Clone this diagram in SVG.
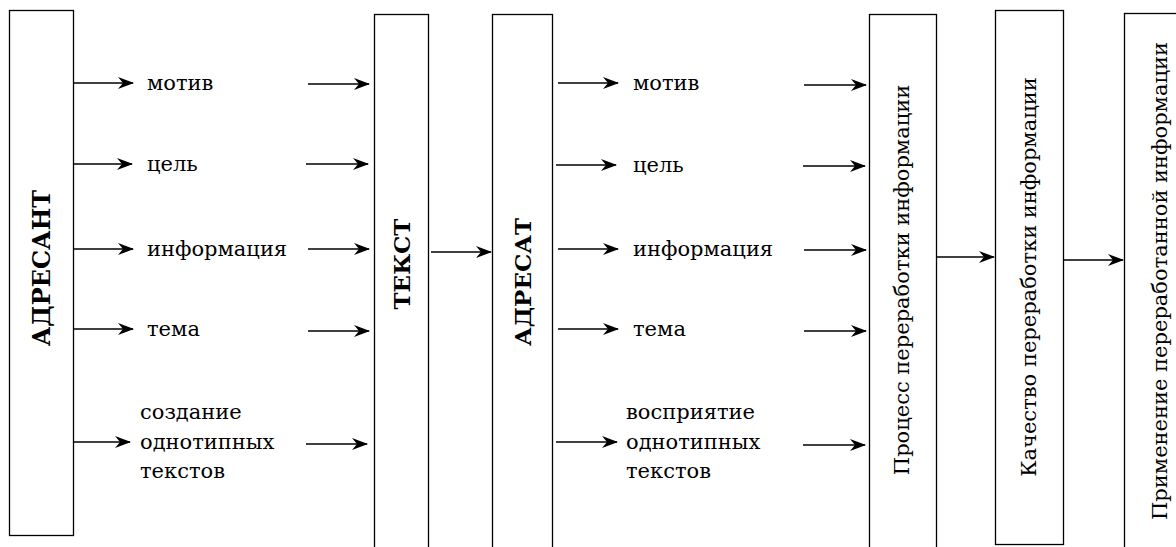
<svg xmlns="http://www.w3.org/2000/svg" width="1176" height="547" viewBox="0 0 1176 547">
  <defs>
    <marker id="arrow" viewBox="0 0 16 12" refX="15" refY="6" markerWidth="16" markerHeight="12" markerUnits="userSpaceOnUse" orient="auto">
      <path d="M0,0 L16,6 L0,12 L5,6 Z" fill="#000"/>
    </marker>
    <style>
      .box { fill: #fff; stroke: #000; stroke-width: 1.3; }
      .link { stroke: #000; stroke-width: 1.4; fill: none; marker-end: url(#arrow); }
      text { fill: #000; font-family: "DejaVu Serif", "Liberation Serif", serif; }
      .lbl { font-size: 21px; }
      .title { font-size: 23px; font-weight: bold; }
      .title-lg { font-size: 24px; font-weight: bold; }
      .vlbl { font-size: 21px; }
    </style>
  </defs>
  <rect width="1176" height="547" fill="#fff"/>

  <!-- sender -->
  <g id="adresant">
    <rect class="box" x="9.5" y="10.5" width="64" height="525"/>
    <text class="title-lg" transform="translate(41,268) rotate(-90)" text-anchor="middle" dominant-baseline="central">АДРЕСАНТ</text>
  </g>

  <!-- sender attributes -->
  <g id="sender-labels">
    <text class="lbl" x="147" y="83" dominant-baseline="central">мотив</text>
    <text class="lbl" x="147" y="164" dominant-baseline="central">цель</text>
    <text class="lbl" x="147" y="249" dominant-baseline="central">информация</text>
    <text class="lbl" x="147" y="329" dominant-baseline="central">тема</text>
    <text class="lbl" x="140" y="412" dominant-baseline="central">создание</text>
    <text class="lbl" x="140" y="442" dominant-baseline="central">однотипных</text>
    <text class="lbl" x="140" y="471" dominant-baseline="central">текстов</text>
  </g>

  <!-- text -->
  <g id="tekst">
    <rect class="box" x="374.5" y="14.5" width="54" height="560"/>
    <text class="title" transform="translate(401,264) rotate(-90)" text-anchor="middle" dominant-baseline="central">ТЕКСТ</text>
  </g>

  <!-- recipient -->
  <g id="adresat">
    <rect class="box" x="492.5" y="14.5" width="60" height="560"/>
    <text class="title" transform="translate(522,282) rotate(-90)" text-anchor="middle" dominant-baseline="central">АДРЕСАТ</text>
  </g>

  <!-- recipient attributes -->
  <g id="recipient-labels">
    <text class="lbl" x="633" y="83" dominant-baseline="central">мотив</text>
    <text class="lbl" x="633" y="165" dominant-baseline="central">цель</text>
    <text class="lbl" x="633" y="249" dominant-baseline="central">информация</text>
    <text class="lbl" x="633" y="329" dominant-baseline="central">тема</text>
    <text class="lbl" x="626" y="412" dominant-baseline="central">восприятие</text>
    <text class="lbl" x="626" y="442" dominant-baseline="central">однотипных</text>
    <text class="lbl" x="626" y="471" dominant-baseline="central">текстов</text>
  </g>

  <!-- processing -->
  <g id="process">
    <rect class="box" x="869.5" y="14.5" width="67" height="560"/>
    <text class="vlbl" transform="translate(902,280) rotate(-90)" text-anchor="middle" dominant-baseline="central">Процесс переработки информации</text>
  </g>

  <g id="quality">
    <rect class="box" x="995.5" y="10.5" width="68" height="534"/>
    <text class="vlbl" transform="translate(1029,277) rotate(-90)" text-anchor="middle" dominant-baseline="central">Качество переработки информации</text>
  </g>

  <g id="application">
    <rect class="box" x="1124.5" y="13.5" width="80" height="560"/>
    <text class="vlbl" transform="translate(1160,281) rotate(-90)" text-anchor="middle" dominant-baseline="central">Применение переработанной информации</text>
  </g>

  <!-- connectors -->
  <g id="connectors">
    <line class="link" x1="73.5" y1="83" x2="133" y2="83"/>
    <line class="link" x1="73.5" y1="164" x2="132" y2="164"/>
    <line class="link" x1="73.5" y1="249" x2="133" y2="249"/>
    <line class="link" x1="73.5" y1="329" x2="133" y2="329"/>
    <line class="link" x1="73.5" y1="442" x2="130" y2="442"/>

    <line class="link" x1="308" y1="84" x2="369" y2="84"/>
    <line class="link" x1="306" y1="164" x2="368" y2="164"/>
    <line class="link" x1="308" y1="249" x2="369" y2="249"/>
    <line class="link" x1="308" y1="331" x2="369" y2="331"/>
    <line class="link" x1="306" y1="444" x2="367" y2="444"/>

    <line class="link" x1="431" y1="252" x2="491" y2="252"/>

    <line class="link" x1="558" y1="83" x2="618" y2="83"/>
    <line class="link" x1="556" y1="165" x2="616" y2="165"/>
    <line class="link" x1="558" y1="249" x2="618" y2="249"/>
    <line class="link" x1="558" y1="329" x2="618" y2="329"/>
    <line class="link" x1="556" y1="442" x2="617" y2="442"/>

    <line class="link" x1="804" y1="85" x2="866" y2="85"/>
    <line class="link" x1="803" y1="166" x2="865" y2="166"/>
    <line class="link" x1="804" y1="250" x2="866" y2="250"/>
    <line class="link" x1="804" y1="331" x2="866" y2="331"/>
    <line class="link" x1="803" y1="445" x2="865" y2="445"/>

    <line class="link" x1="936.5" y1="257" x2="994" y2="257"/>
    <line class="link" x1="1063.5" y1="260" x2="1123" y2="260"/>
  </g>
</svg>
